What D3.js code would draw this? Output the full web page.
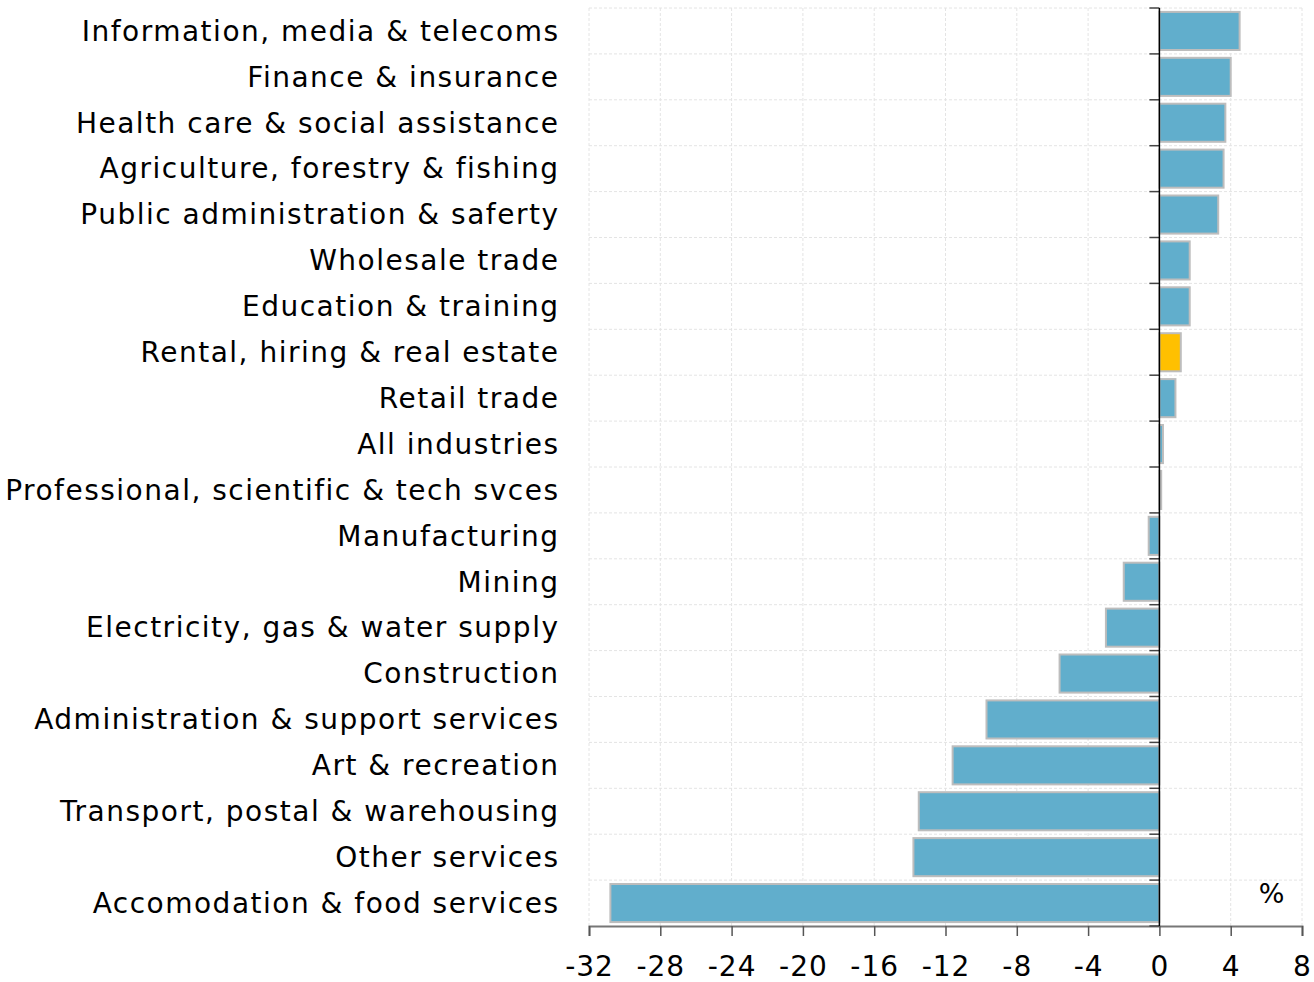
<!DOCTYPE html>
<html>
<head>
<meta charset="utf-8">
<script src="https://cdn.jsdelivr.net/npm/d3@7"></script>
<style>
  body { margin: 0; background: #fff; }
  text { font-family: "DejaVu Sans", sans-serif; }
</style>
</head>
<body>
<div id="chart"></div>
<script>
const categories = [
    "Information, media & telecoms",
    "Finance & insurance",
    "Health care & social assistance",
    "Agriculture, forestry & fishing",
    "Public administration & saferty",
    "Wholesale trade",
    "Education & training",
    "Rental, hiring & real estate",
    "Retail trade",
    "All industries",
    "Professional, scientific & tech svces",
    "Manufacturing",
    "Mining",
    "Electricity, gas & water supply",
    "Construction",
    "Administration & support services",
    "Art & recreation",
    "Transport, postal & warehousing",
    "Other services",
    "Accomodation & food services"
];

const values = [4.5, 4.0, 3.7, 3.6, 3.3, 1.7, 1.7, 1.2, 0.9, 0.2, 0.1, -0.6, -2.0, -3.0, -5.6, -9.7, -11.6, -13.5, -13.8, -30.8];
const highlight = "Rental, hiring & real estate";
const xTicks = [-32, -28, -24, -20, -16, -12, -8, -4, 0, 4, 8];

const width = 1314, height = 982;
const margin = {top: 8, right: 12, bottom: 56, left: 589};
const innerW = width - margin.left - margin.right;
const innerH = height - margin.top - margin.bottom;

const svg = d3.select("#chart")
    .append("svg")
    .attr("width", width)
    .attr("height", height)
    .append("g")
    .attr("transform", `translate(${margin.left},${margin.top})`);

const x = d3.scaleLinear().domain([-32, 8]).range([0, innerW]);
const y = d3.scaleBand().domain(categories).range([0, innerH]).paddingInner(0.17).paddingOuter(0.085);

// gridlines
svg.append("g")
    .selectAll("line")
    .data(xTicks)
    .join("line")
    .attr("x1", d => x(d)).attr("x2", d => x(d))
    .attr("y1", 0).attr("y2", innerH)
    .attr("stroke", "#e4e4e4")
    .attr("stroke-dasharray", "3,2");

const rowStep = innerH / categories.length;
svg.append("g")
    .selectAll("line")
    .data(d3.range(categories.length))
    .join("line")
    .attr("x1", 0).attr("x2", innerW)
    .attr("y1", d => d * rowStep).attr("y2", d => d * rowStep)
    .attr("stroke", "#e4e4e4")
    .attr("stroke-dasharray", "3,2");

// bars
svg.append("g")
    .selectAll("rect")
    .data(categories)
    .join("rect")
    .attr("x", (d, i) => x(Math.min(0, values[i])))
    .attr("y", d => y(d))
    .attr("width", (d, i) => Math.abs(x(values[i]) - x(0)))
    .attr("height", y.bandwidth())
    .attr("fill", d => d === highlight ? "#ffc000" : "#61aecc")
    .attr("stroke", "#bdbdbd")
    .attr("stroke-width", 2);

// bottom axis
const xAxis = svg.append("g")
    .attr("transform", `translate(0,${innerH})`)
    .call(d3.axisBottom(x).tickValues(xTicks).tickSize(10).tickPadding(20).tickFormat(d3.format("d")));
xAxis.select(".domain").attr("stroke", "#777").attr("stroke-width", 2);
xAxis.selectAll(".tick line").attr("stroke", "#555").attr("stroke-width", 1.5);
xAxis.selectAll(".tick text")
    .attr("fill", "#000")
    .style("font-family", "DejaVu Sans")
    .style("font-size", "28px")
    .style("letter-spacing", "1px")
    .text(d => d < 0 ? "-" + Math.abs(d) : d);

// zero line with category ticks
svg.append("g")
    .selectAll("line")
    .data(d3.range(categories.length + 1))
    .join("line")
    .attr("x1", x(0) - 10).attr("x2", x(0))
    .attr("y1", d => d * rowStep).attr("y2", d => d * rowStep)
    .attr("stroke", "#444")
    .attr("stroke-width", 1.5);
svg.append("line")
    .attr("x1", x(0)).attr("x2", x(0))
    .attr("y1", 0).attr("y2", innerH)
    .attr("stroke", "#000")
    .attr("stroke-width", 1.5);

// category labels
svg.append("g")
    .selectAll("text")
    .data(categories)
    .join("text")
    .attr("x", -29.5)
    .attr("y", d => y(d) + y.bandwidth() / 2)
    .attr("dy", "0.35em")
    .attr("text-anchor", "end")
    .style("font-size", "28px")
    .style("letter-spacing", "1.5px")
    .attr("fill", "#000")
    .text(d => d);

// unit label
svg.append("text")
    .attr("x", x(6.3))
    .attr("y", y(categories[categories.length - 1]) + y.bandwidth() / 2 - 10)
    .attr("dy", "0.35em")
    .attr("text-anchor", "middle")
    .style("font-size", "27px")
    .text("%");
</script>
</body>
</html>
